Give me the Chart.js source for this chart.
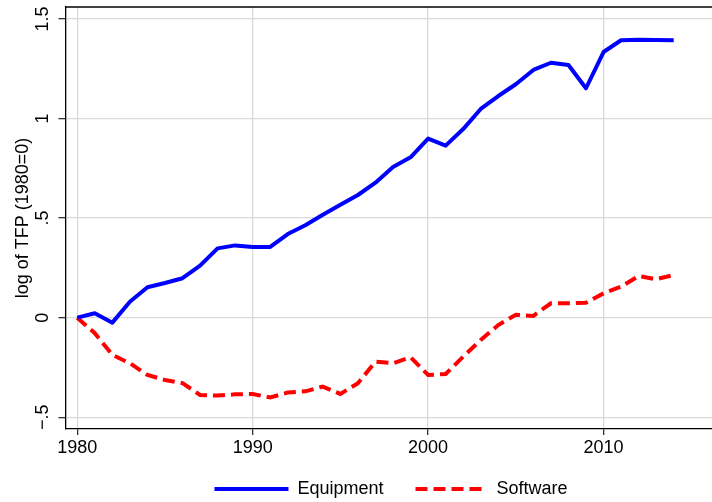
<!DOCTYPE html>
<html>
<head>
<meta charset="utf-8">
<script src="https://cdn.jsdelivr.net/npm/chart.js@4"></script>
<style>
html,body{margin:0;padding:0;overflow:hidden;background:#fff}
#wrap{width:720px;height:508px}
</style>
</head>
<body>
<div id="wrap"><canvas id="c" width="720" height="508"></canvas></div>
<script>
const years = [1980,1981,1982,1983,1984,1985,1986,1987,1988,1989,1990,1991,1992,1993,1994,1995,1996,1997,1998,1999,2000,2001,2002,2003,2004,2005,2006,2007,2008,2009,2010,2011,2012,2013,2014];
const equipment = [0,0.022,-0.025,0.080,0.153,0.174,0.198,0.261,0.348,0.363,0.355,0.355,0.420,0.464,0.517,0.567,0.616,0.678,0.756,0.805,0.899,0.864,0.947,1.048,1.113,1.172,1.244,1.280,1.269,1.152,1.334,1.393,1.396,1.394,1.393];
const software = [0,-0.078,-0.187,-0.229,-0.288,-0.313,-0.329,-0.388,-0.391,-0.385,-0.383,-0.401,-0.376,-0.370,-0.346,-0.383,-0.329,-0.221,-0.229,-0.199,-0.288,-0.283,-0.196,-0.112,-0.037,0.014,0.009,0.072,0.072,0.075,0.122,0.156,0.209,0.193,0.214];
const seriesNames = ['Equipment','Software'];
const xTicks = [1980,1990,2000,2010];
const yTicks = [-0.5,0,0.5,1,1.5];
const yTickLabels = ['\u2212.5','0','.5','1','1.5'];
const yTitle = 'log of TFP (1980=0)';
const xMin = 1979.33, xMax = 2016.44;
const yMin = -0.559, yMax = 1.56;

const FONT = {family:'"Liberation Sans", Arial, Helvetica, sans-serif', size:18};

const framePlugin = {
  id:'frame',
  beforeLayout(chart){
    const lg = chart.legend;
    if (lg && !lg._fixed){
      lg._fixed = true;
      const fit = lg.fit;
      lg.fit = function(){ fit.call(this); this.height = 38; };
    }
  },
  afterLayout(chart){
    const lg = chart.legend;
    if (lg){
      lg.top = chart.chartArea.bottom + 21;
      lg.bottom = chart.height;
      lg.height = lg.bottom - lg.top;
    }
  },
  afterDraw(chart){
    const {ctx, chartArea:a} = chart;
    ctx.save();
    ctx.strokeStyle = '#000';
    ctx.lineWidth = 1.3;
    ctx.beginPath();
    ctx.moveTo(a.left, a.top);
    ctx.lineTo(a.right, a.top);
    ctx.stroke();
    ctx.restore();
  }
};

function zeroPad(s){ s.paddingTop = 0; s.paddingBottom = 0; s.paddingLeft = 0; s.paddingRight = 0; }

new Chart(document.getElementById('c'), {
  type:'line',
  data:{
    datasets:[
      {label:seriesNames[0], data:years.map((x,i)=>({x, y:equipment[i]})), borderColor:'#0000ff', backgroundColor:'#0000ff', borderWidth:4, pointRadius:0, tension:0, borderJoinStyle:'round', fill:false},
      {label:seriesNames[1], data:years.map((x,i)=>({x, y:software[i]})), borderColor:'#ff0000', backgroundColor:'#ff0000', borderWidth:4, borderDash:[12,6], pointRadius:0, tension:0, fill:false}
    ]
  },
  plugins:[framePlugin],
  options:{
    responsive:false,
    animation:false,
    devicePixelRatio:1,
    layout:{autoPadding:false, padding:{top:7, right:3.5, left:0, bottom:0}},
    plugins:{
      tooltip:{enabled:false},
      legend:{
        position:'bottom',
        fullSize:false,
        labels:{
          usePointStyle:true,
          pointStyle:'line',
          pointStyleWidth:74,
          boxHeight:18,
          padding:30,
          color:'#000',
          font:FONT,
          generateLabels(chart){
            const items = Chart.defaults.plugins.legend.labels.generateLabels(chart);
            items.forEach(it=>{
              const ds = chart.data.datasets[it.datasetIndex];
              it.pointStyle = 'line';
              it.strokeStyle = ds.borderColor;
              it.lineWidth = ds.borderWidth;
              it.lineDash = ds.borderDash || [];
              it.lineDashOffset = ds.borderDash ? 16 : 0;
              it.lineCap = 'butt';
            });
            return items;
          }
        }
      }
    },
    scales:{
      x:{
        type:'linear', min:xMin, max:xMax,
        afterBuildTicks:s=>{ s.ticks = xTicks.map(v=>({value:v})); },
        afterFit:s=>{ s.height = 41; zeroPad(s); },
        ticks:{callback:v=>String(v), color:'#000', font:FONT, padding:2, maxRotation:0, autoSkip:false},
        grid:{color:'#dadada', lineWidth:1.3, tickLength:6, tickColor:'#333', tickWidth:1.3},
        border:{color:'#000', width:1.3}
      },
      y:{
        type:'linear', min:yMin, max:yMax,
        afterBuildTicks:s=>{ s.ticks = yTicks.map(v=>({value:v})); },
        afterFit:s=>{ s.width = 65.5; zeroPad(s); },
        ticks:{callback:v=>yTickLabels[yTicks.indexOf(v)], color:'#000', font:FONT, padding:2.5, minRotation:90, maxRotation:90, crossAlign:'center', autoSkip:false},
        grid:{color:'#dadada', lineWidth:1.3, tickLength:7, tickColor:'#333', tickWidth:1.3},
        border:{color:'#000', width:1.3},
        title:{display:true, text:yTitle, color:'#000', font:FONT, padding:{top:12, bottom:0}}
      }
    }
  }
});
</script>
</body>
</html>
